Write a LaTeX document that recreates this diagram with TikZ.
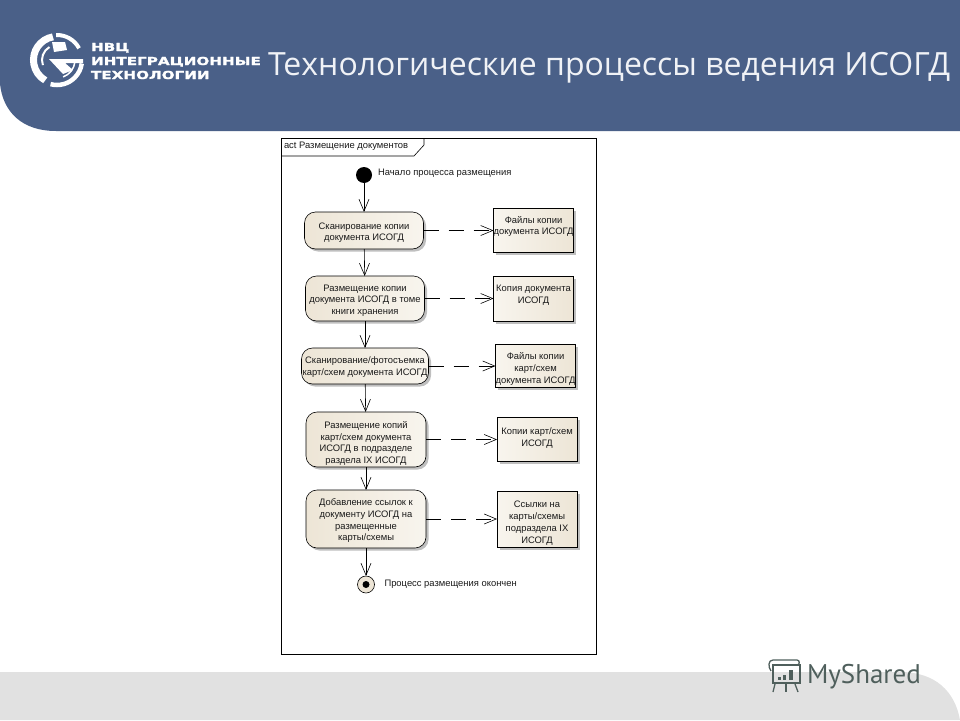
\documentclass[tikz,border=0pt]{standalone}
\usepackage{fontspec}
\setmainfont{Liberation Sans}
\newfontfamily\titlefont{Open Sans}
\newfontfamily\logofont[FakeStretch=1.38,FakeBold=1.6]{DejaVu Sans Bold}
\newfontfamily\brandfont{PT Sans}
\usepackage{xcolor}
\usetikzlibrary{arrows.meta,positioning,shadows,calc}
\definecolor{HeaderBlue}{HTML}{4A6088}
\definecolor{FooterGrey}{HTML}{E1E1E1}
\definecolor{ActBeige}{HTML}{EDE5D6}
\definecolor{ActPaper}{HTML}{F8F5EE}
\definecolor{BrandInk}{HTML}{4F5F5C}
\newcommand{\drop}[1]{\rule{0pt}{#1pt}}
\newcommand{\lift}[1]{\rule[-#1pt]{0pt}{#1pt}}
\begin{document}
\begin{tikzpicture}[
  x=1pt,y=-1pt,
  every node/.style={outer sep=0pt,inner sep=0pt},
  uml/.style={font=\fontsize{9.4}{11.7}\selectfont,align=center,text=black!90},
  softshadow/.style={general shadow={fill=black!25,shadow xshift=2.5pt,shadow yshift=-2.5pt}},
  act/.style={uml,draw=black,line width=0.6pt,rounded corners=11pt,softshadow,left color=ActBeige,right color=ActPaper},
  obj/.style={uml,draw=black,line width=0.6pt,softshadow,left color=ActPaper,right color=ActBeige,minimum width=80pt},
  note/.style={uml,anchor=west},
  flow/.style={-{Straight Barb[length=12pt,width=10pt,line width=0.6pt]},draw=black,line width=0.6pt},
  makes/.style={flow,dash pattern=on 15pt off 10pt},
  logotext/.style={anchor=base west,text=white,font=\logofont\fontsize{11}{14}\selectfont}
]
\useasboundingbox (0,0) rectangle (960,720);
% header and footer bands
\fill[HeaderBlue] (0,0) -- (960,0) -- (960,131) -- (56,131) .. controls (22,131) and (3,112) .. (0,84) -- cycle;
\fill[FooterGrey] (0,720) -- (0,672) -- (900,672) .. controls (936,672) and (955,692) .. (960,720) -- cycle;
\node[anchor=base west,text=HeaderBlue!8,font=\titlefont\fontsize{32}{34}\selectfont] (title) at (268,75) {Технологические процессы ведения ИСОГД};
% logo
\begin{scope}[shift={(57,60)},y=1pt,draw=white,fill=white]
  \draw[line width=7pt] (100:23.5) arc[start angle=100,end angle=240,radius=23.5];
  \draw[line width=4pt] (92:25) arc[start angle=92,end angle=28,radius=25];
  \draw[line width=4.5pt] (-105:25) arc[start angle=-105,end angle=-8,radius=25];
  \draw[line width=2pt] (120:15) arc[start angle=120,end angle=200,radius=15];
  \draw[line width=1.5pt] (-5:18) arc[start angle=-5,end angle=-70,radius=18];
  \fill (-8,1) -- (26,1) -- (26,-3) -- (8,-3) -- (16,-10) -- (6,-14) -- cycle;
  \fill (-5,18) -- (8,18) -- (10,10) -- (-3,8) -- cycle;
\end{scope}
\node[logotext] (nvc) at (91,51) {НВЦ};
\node[logotext] (integ) at (91,65) {ИНТЕГРАЦИОННЫЕ};
\node[logotext] (tech) at (91,79) {ТЕХНОЛОГИИ};
% frame
\draw[black,line width=0.8pt] (281,138) rectangle (596,654);
\node[uml,anchor=west] (frametitle) at (284,146) {act Размещение документов};
\draw[black,line width=0.6pt] (281,156) -- (414,156) -- (424,145) -- (424,138);
% activities
\node[circle,fill=black,minimum size=16pt] (start) at (364,175) {};
\node[note,right=6pt of start,yshift=2pt] (startnote) {Начало процесса размещения};
\node[act,below=29pt of start,minimum width=119pt,minimum height=37pt] (scan) {\drop{10.8}Сканирование копии\\документа ИСОГД};
\node[act,below=27pt of scan,xshift=1pt,minimum width=119pt,minimum height=45pt] (place) {\drop{10.8}Размещение копии\\документа ИСОГД в томе\\книги хранения};
\node[act,below=27pt of place,minimum width=127pt,minimum height=36pt] (photo) {\drop{8.8}Сканирование/фотосъемка\\карт/схем документа ИСОГД};
\node[act,below=28pt of photo,xshift=1pt,minimum width=120pt,minimum height=55pt] (section) {\drop{14.8}Размещение копий\\карт/схем документа\\ИСОГД в подразделе\\раздела IX ИСОГД};
\node[act,below=23pt of section,minimum width=120pt,minimum height=58pt] (links) {\drop{10.8}Добавление ссылок к\\документу ИСОГД на\\размещенные\\карты/схемы};
\node[circle,draw=black,line width=0.6pt,fill=ActBeige,minimum size=17pt,below=28pt of links] (finish) {};
\node[circle,fill=black,minimum size=7pt] (finishdot) at (finish) {};
\node[note,right=10pt of finish] (finishnote) {Процесс размещения окончен};
% documents
\node[obj,right=70pt of scan,minimum height=44pt] (scanfiles) {Файлы копии\\документа ИСОГД\lift{10}};
\node[obj,right=69pt of place,minimum height=45pt] (copydoc) {Копия документа\\ИСОГД\lift{8}};
\node[obj,right=67pt of photo,minimum height=43pt] (mapfiles) {\drop{12.8}Файлы копии\\карт/схем\\документа ИСОГД};
\node[obj,right=71pt of section,minimum height=44pt] (mapcopies) {Копии карт/схем\\ИСОГД\lift{5}};
\node[obj,right=71pt of links,minimum height=56pt] (maplinks) {\drop{14.8}Ссылки на\\карты/схемы\\подраздела IX\\ИСОГД};
\draw[flow] (start) -- (scan);
\draw[flow] (scan) -- (place);
\draw[flow] (place) -- (photo);
\draw[flow] (photo) -- (section);
\draw[flow] (section) -- (links);
\draw[flow] (links) -- (finish);
\draw[makes] (scan) -- (scanfiles);
\draw[makes] (place) -- (copydoc);
\draw[makes] (photo) -- (mapfiles);
\draw[makes] (section) -- (mapcopies);
\draw[makes] (links) -- (maplinks);
% brand
\node[anchor=base west,text=BrandInk,font=\brandfont\fontsize{27}{30}\selectfont] (brand) at (807,683) {MyShared};
\begin{scope}[draw=BrandInk,fill=BrandInk,line width=1.3pt]
  \draw (773,665) rectangle (800,683);
  \draw (771,671) .. controls (768,667) and (768,660) .. (773,660) -- (797,660) .. controls (800,660) and (800,665) .. (797,665);
  \draw (775,684) -- (773,692);
  \draw (786,684) -- (786,692);
  \draw (795,684) -- (798,692);
  \fill (778,677) rectangle (781,680);
  \fill (783,675) rectangle (786,680);
  \fill (789,670) rectangle (793,680);
\end{scope}
\end{tikzpicture}
\end{document}
